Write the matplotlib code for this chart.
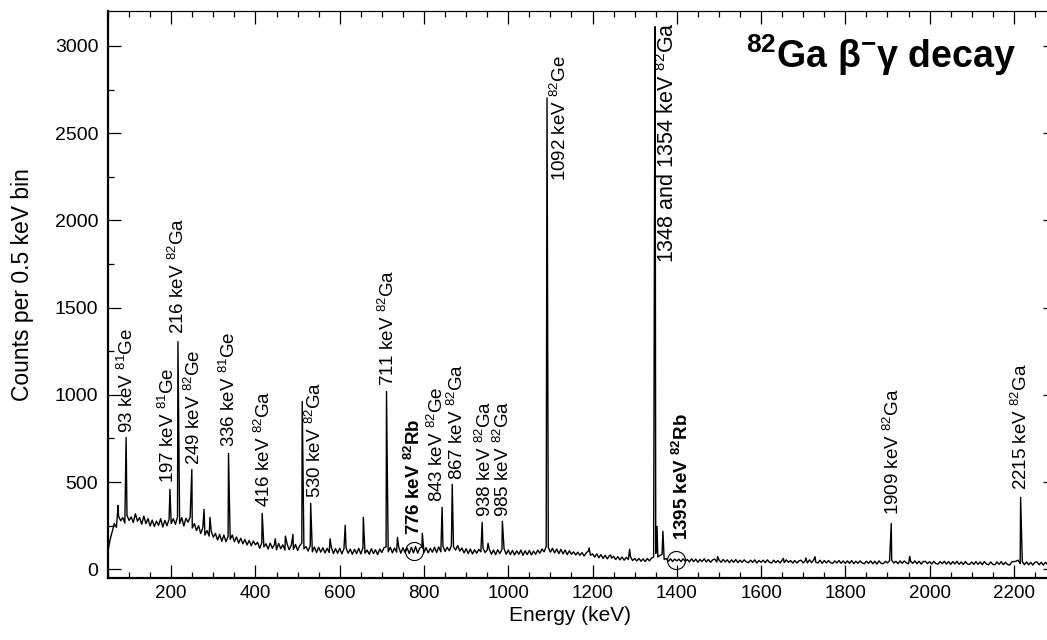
import numpy as np
import matplotlib
matplotlib.use("Agg")
import matplotlib.pyplot as plt
from matplotlib.ticker import MultipleLocator

plt.rcParams['font.family'] = ['Liberation Sans', 'DejaVu Sans']
plt.rcParams['mathtext.fontset'] = 'custom'
plt.rcParams['mathtext.rm'] = 'Liberation Sans'
plt.rcParams['mathtext.bf'] = 'Liberation Sans:bold'
plt.rcParams['mathtext.default'] = 'regular'

# background counts, one value every 5 keV starting at 50 keV
bg_start = 50
bg_step = 5
bg_counts = [
    105, 170, 215, 262, 240, 305, 278, 296, 265, 310, 280,
    300, 268, 318, 276, 296, 258, 305, 262, 290, 248, 282, 245, 276, 252, 290, 242, 280, 250, 286, 262,
    290, 258, 300, 262, 296, 248, 292, 270, 300, 236, 262, 222, 250, 205, 238, 196, 222, 190, 218, 184,
    205, 168, 200, 160, 196, 158, 188, 172, 196, 158, 185, 150, 178, 146, 170, 140, 165, 135, 162, 140,
    155, 120, 152, 128, 146, 116, 150, 120, 142, 112, 148, 118, 140, 110, 146, 112, 138, 114, 142, 108,
    135, 150, 118, 130, 104, 136, 100, 128, 96, 126, 98, 124, 94, 120, 96, 126, 90, 118, 92, 120,
    88, 118, 122, 92, 116, 86, 114, 90, 120, 88, 122, 92, 110, 86, 118, 90, 112, 84, 116, 96,
    124, 128, 100, 126, 94, 122, 98, 128, 92, 124, 96, 122, 90, 126, 94, 130, 92, 122, 128, 96,
    124, 94, 120, 98, 126, 96, 128, 100, 132, 102, 126, 106, 135, 128, 110, 136, 104, 122, 94, 118,
    90, 116, 88, 112, 92, 114, 100, 122, 96, 110, 116, 86, 110, 84, 112, 90, 114, 118, 86, 110,
    84, 108, 82, 106, 86, 110, 80, 106, 84, 108, 82, 104, 86, 110, 92, 116, 100, 130, 124, 98,
    120, 94, 116, 90, 114, 88, 110, 84, 106, 86, 100, 82, 98, 80, 96, 76, 94, 104, 80, 88,
    70, 88, 66, 84, 62, 80, 60, 78, 64, 74, 56, 72, 54, 70, 52, 68, 56, 72, 50, 62,
    48, 62, 46, 60, 44, 62, 48, 64, 70, 90, 70, 80, 84, 56, 62, 46, 60, 44, 58, 48,
    58, 44, 60, 46, 56, 42, 60, 44, 58, 40, 56, 44, 60, 42, 56, 40, 54, 58, 42, 54,
    40, 56, 42, 54, 38, 54, 40, 56, 38, 52, 40, 54, 42, 38, 52, 40, 54, 36, 50, 40,
    52, 38, 54, 40, 36, 52, 38, 50, 36, 52, 38, 54, 40, 50, 36, 50, 36, 48, 52, 36,
    50, 36, 54, 38, 54, 40, 36, 52, 34, 50, 36, 50, 38, 34, 48, 36, 50, 34, 48, 34,
    48, 34, 50, 32, 46, 34, 48, 36, 32, 46, 34, 48, 32, 46, 30, 48, 34, 32, 46, 36,
    50, 52, 36, 46, 32, 48, 34, 48, 36, 32, 46, 34, 48, 32, 46, 30, 44, 46, 32, 44,
    30, 46, 32, 30, 44, 32, 46, 30, 44, 28, 44, 30, 46, 28, 42, 28, 44, 30, 28, 42,
    28, 44, 28, 42, 26, 44, 30, 26, 42, 28, 26, 42, 28, 44, 26, 40, 28, 24, 42, 44,
    46, 52, 32, 44, 26, 42, 26, 40, 24, 40, 42, 26, 40, 24, 40, 28,
]
assert len(bg_counts) == 447

# gamma lines (peak energy in keV, peak top in counts)
peak_energy = [74, 93, 197, 216, 249, 278, 292, 336, 416, 447, 471, 489, 511, 531, 577,
               613, 656, 711, 737, 796, 843, 867, 938, 952, 986, 1092, 1192, 1243, 1288,
               1347.5, 1348.5, 1353, 1367, 1497, 1653, 1706, 1728, 1909, 1953, 2216]
peak_counts = [366, 755, 458, 1305, 572, 343, 298, 664, 320, 175, 190, 200, 962, 378, 175,
               252, 298, 1019, 183, 206, 355, 487, 269, 149, 275, 2702, 122, 82, 115,
               2430, 3110, 246, 218, 72, 62, 64, 72, 263, 74, 412]

# peak labels: text, energy, counts of the label's lower end, bold, size
labels = [
    (r"93 keV $^{81}$Ge", 95, 780, False, 13.5),
    (r"197 keV $^{81}$Ge", 192, 492, False, 13.5),
    (r"216 keV $^{82}$Ga", 217, 1351, False, 13.5),
    (r"249 keV $^{82}$Ge", 255, 595, False, 13.5),
    (r"336 keV $^{81}$Ge", 336, 700, False, 13.5),
    (r"416 keV $^{82}$Ga", 419, 357, False, 13.5),
    (r"530 keV $^{82}$Ga", 541, 406, False, 13.5),
    (r"711 keV $^{82}$Ga", 715, 1053, False, 13.5),
    (r"776 keV $^{82}$Rb", 776, 195, True, 13.5),
    (r"843 keV $^{82}$Ge", 830, 385, False, 13.5),
    (r"867 keV $^{82}$Ga", 878, 509, False, 13.5),
    (r"938 keV $^{82}$Ga", 945, 300, False, 13.5),
    (r"985 keV $^{82}$Ga", 988, 300, False, 13.5),
    (r"1092 keV $^{82}$Ge", 1123, 2227, False, 13.5),
    (r"1348 and 1354 keV $^{82}$Ga", 1377, 1757, False, 15.5),
    (r"1395 keV $^{82}$Rb", 1412, 166, True, 13.5),
    (r"1909 keV $^{82}$Ga", 1914, 309, False, 13.5),
    (r"2215 keV $^{82}$Ga", 2217, 452, False, 13.5),
]

# circled Rb lines
circle_energy = [776, 1397]
circle_counts = [105, 55]

fig = plt.figure(figsize=(10.47, 6.4), dpi=100)
ax = fig.add_axes([108 / 1047, 62 / 640, 948 / 1047, 567 / 640])

bg_energy = bg_start + bg_step * np.arange(len(bg_counts))
x = np.concatenate([bg_energy, peak_energy])
y = np.concatenate([bg_counts, peak_counts])
order = np.argsort(x, kind='stable')
ax.plot(x[order], y[order], color='black', lw=1.0)

ax.plot(circle_energy, circle_counts, 'o', mfc='none', mec='black', ms=13, mew=0.8)

for txt, e, c, bold, size in labels:
    ax.text(e, c, txt, rotation=90, ha='center', va='bottom', fontsize=size,
            fontweight='bold' if bold else 'normal')

ax.text(0.815, 0.922, r"$^{82}$Ga β$^{-}$γ decay", transform=ax.transAxes,
        ha='center', va='center', fontsize=27, fontweight='bold')

ax.set_xlim(50, 2300)
ax.set_ylim(-50, 3200)
ax.xaxis.set_major_locator(MultipleLocator(200))
ax.xaxis.set_minor_locator(MultipleLocator(50))
ax.yaxis.set_major_locator(MultipleLocator(500))
ax.yaxis.set_minor_locator(MultipleLocator(250))
ax.tick_params(which='both', direction='in', top=True, right=True, width=0.9)
ax.tick_params(which='major', length=9.5)
ax.tick_params(which='minor', length=4)
ax.tick_params(axis='x', pad=5, labelsize=13.5)
ax.tick_params(axis='y', pad=7, labelsize=14)
for side in ['left', 'bottom']:
    ax.spines[side].set_linewidth(1.6)
ax.spines['top'].set_linewidth(0.9)

ax.set_xlabel('Energy (keV)', fontsize=15)
ax.set_ylabel('Counts per 0.5 keV bin', fontsize=16.5)
ax.xaxis.set_label_coords(0.487, -0.05)
ax.yaxis.set_label_coords(-0.078, 0.518)

fig.savefig('out.png', dpi=100)
